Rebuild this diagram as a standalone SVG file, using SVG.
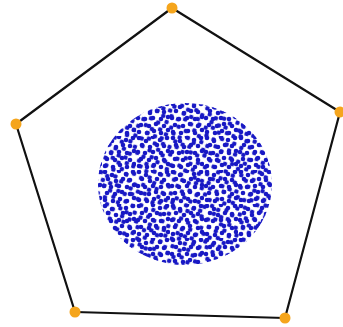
<svg xmlns="http://www.w3.org/2000/svg" width="343" height="327" viewBox="0 0 343 327">
<style>
.edge{stroke:#111;stroke-width:2.2;fill:none;stroke-linecap:round}
.v{fill:#f5a51c}
.d{fill:#1818c4}
</style>
<defs>
<pattern id="pa" width="34" height="34" patternUnits="userSpaceOnUse">
<g class="d">
<circle cx="3" cy="2" r="2.3"/><circle cx="10" cy="5" r="2.3"/><circle cx="17" cy="1" r="2.3"/><circle cx="24" cy="4" r="2.3"/><circle cx="31" cy="2" r="2.3"/>
<circle cx="6" cy="9" r="2.3"/><circle cx="14" cy="11" r="2.3"/><circle cx="21" cy="9" r="2.3"/><circle cx="28" cy="10" r="2.3"/>
<circle cx="2" cy="16" r="2.3"/><circle cx="9" cy="17" r="2.3"/><circle cx="17" cy="16" r="2.3"/><circle cx="25" cy="17" r="2.3"/><circle cx="32" cy="15" r="2.3"/>
<circle cx="5" cy="23" r="2.3"/><circle cx="13" cy="24" r="2.3"/><circle cx="20" cy="22" r="2.3"/><circle cx="28" cy="24" r="2.3"/>
<circle cx="3" cy="30" r="2.3"/><circle cx="11" cy="31" r="2.3"/><circle cx="18" cy="29" r="2.3"/><circle cx="25" cy="31" r="2.3"/><circle cx="32" cy="28" r="2.3"/>
</g>
</pattern>
<pattern id="pb" width="29" height="29" patternUnits="userSpaceOnUse" patternTransform="rotate(17)">
<g class="d">
<circle cx="2" cy="4" r="2.3"/><circle cx="9" cy="2" r="2.3"/><circle cx="16" cy="5" r="2.3"/><circle cx="24" cy="3" r="2.3"/>
<circle cx="5" cy="11" r="2.3"/><circle cx="13" cy="13" r="2.3"/><circle cx="21" cy="10" r="2.3"/><circle cx="27" cy="14" r="2.3"/>
<circle cx="2" cy="19" r="2.3"/><circle cx="9" cy="21" r="2.3"/><circle cx="17" cy="19" r="2.3"/><circle cx="24" cy="22" r="2.3"/>
<circle cx="6" cy="26" r="2.3"/><circle cx="14" cy="27" r="2.3"/><circle cx="21" cy="27" r="2.3"/>
</g>
</pattern>
</defs>
<rect width="343" height="327" fill="#fff"/>
<g id="connectors">
<line class="edge" x1="172" y1="8" x2="340" y2="112"/>
<line class="edge" x1="340" y1="112" x2="285" y2="318"/>
<line class="edge" x1="285" y1="318" x2="75" y2="312"/>
<line class="edge" x1="75" y1="312" x2="16" y2="124"/>
<line class="edge" x1="16" y1="124" x2="172" y2="8"/>
</g>
<g id="cloud">
<ellipse cx="185" cy="184" rx="87" ry="81" fill="url(#pa)"/>
<ellipse cx="185" cy="184" rx="87" ry="81" fill="url(#pb)"/>
</g>
<g id="v1"><circle class="v" cx="172" cy="8" r="5.5"/></g>
<g id="v2"><circle class="v" cx="340" cy="112" r="5.5"/></g>
<g id="v3"><circle class="v" cx="285" cy="318" r="5.5"/></g>
<g id="v4"><circle class="v" cx="75" cy="312" r="5.5"/></g>
<g id="v5"><circle class="v" cx="16" cy="124" r="5.5"/></g>
</svg>
